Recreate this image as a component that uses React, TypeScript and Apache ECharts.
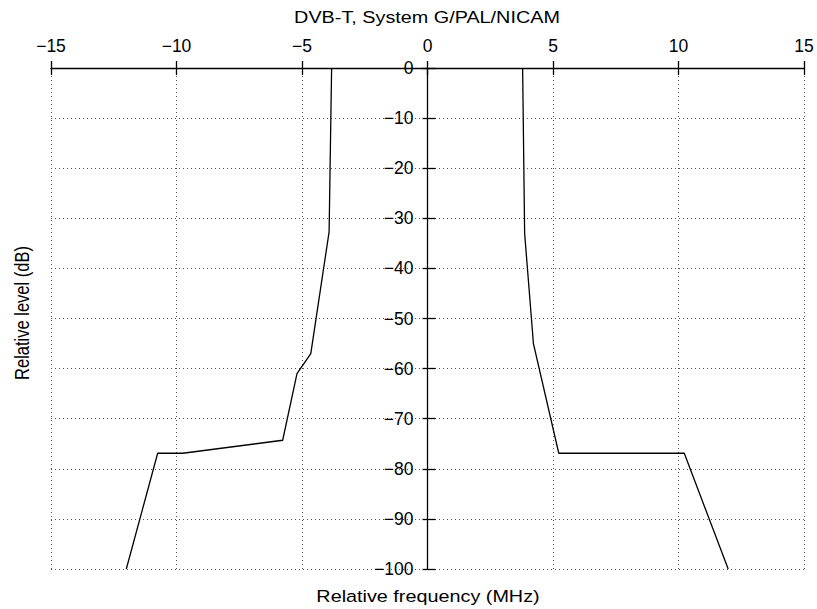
import React, { useEffect, useRef } from "react";
import * as echarts from "echarts";

const xTicks = [-15, -10, -5, 0, 5, 10, 15];
const yTicks = [0, -10, -20, -30, -40, -50, -60, -70, -80, -90, -100];
const leftMaskX = [-12.0, -10.75, -9.75, -5.77, -5.2, -4.65, -3.92, -3.82];
const leftMaskY = [-100, -76.9, -76.9, -74.3, -61, -57, -32.7, 0];
const rightMaskX = [3.79, 3.87, 4.22, 5.23, 10.23, 11.98];
const rightMaskY = [0, -33, -55, -76.9, -76.9, -100];

const FONT = "'Liberation Sans', Arial, Helvetica, sans-serif";
const fmt = (v: number) => (v < 0 ? "\u2212" + Math.abs(v) : String(v));

const GRID_LEFT = 51;
const GRID_RIGHT = 13;
const W = 817;

export default function App() {
  const ref = useRef<HTMLDivElement>(null);
  useEffect(() => {
    if (!ref.current) return;
    const chart = echarts.init(ref.current, undefined, { renderer: "svg" });
    const pair = (xs: number[], ys: number[]) => xs.map((x, i) => [x, ys[i]]);
    const splitLine = { show: true, lineStyle: { color: "#555", type: [1, 3] as any, width: 1 } };
    const labelStyle = { color: "#000", fontSize: 17.5, fontFamily: FONT };
    const yOffset = -(W - GRID_LEFT - GRID_RIGHT) / 2;
    chart.setOption({
      animation: false,
      backgroundColor: "#fff",
      grid: { left: GRID_LEFT, right: GRID_RIGHT, top: 68, bottom: 40, containLabel: false },
      xAxis: [
        {
          type: "value",
          position: "top",
          min: xTicks[0],
          max: xTicks[xTicks.length - 1],
          interval: 5,
          axisLine: { show: true, onZero: false, lineStyle: { color: "#000", width: 1.3 } },
          axisTick: { show: true, length: 7, lineStyle: { color: "#000", width: 1.3 } },
          axisLabel: { ...labelStyle, margin: 13, formatter: (v: number) => fmt(v) },
          splitLine,
        },
        {
          type: "value",
          position: "top",
          min: xTicks[0],
          max: xTicks[xTicks.length - 1],
          interval: 5,
          axisLine: { show: false, onZero: false },
          axisTick: { show: true, inside: true, length: 7, lineStyle: { color: "#000", width: 1.3 } },
          axisLabel: { show: false },
          splitLine: { show: false },
        },
      ],
      yAxis: [
        {
          type: "value",
          position: "left",
          offset: yOffset,
          min: yTicks[yTicks.length - 1],
          max: yTicks[0],
          interval: 10,
          axisLine: { show: true, onZero: false, lineStyle: { color: "#000", width: 1.3 } },
          axisTick: { show: true, length: 5, lineStyle: { color: "#000", width: 1.3 } },
          axisLabel: { ...labelStyle, margin: 14, formatter: (v: number) => fmt(v) },
          splitLine,
        },
        {
          type: "value",
          position: "left",
          offset: yOffset,
          min: yTicks[yTicks.length - 1],
          max: yTicks[0],
          interval: 10,
          axisLine: { show: false, onZero: false },
          axisTick: { show: true, inside: true, length: 8, lineStyle: { color: "#000", width: 1.3 } },
          axisLabel: { show: false },
          splitLine: { show: false },
        },
      ],
      graphic: [
        {
          type: "text",
          x: 427,
          y: 18,
          scaleX: 1.2,
          style: {
            text: "DVB-T, System G/PAL/NICAM",
            font: `16.5px ${FONT}`,
            fill: "#000",
            align: "center",
            verticalAlign: "middle",
          },
        },
        {
          type: "text",
          x: 428,
          y: 597,
          scaleX: 1.2,
          style: {
            text: "Relative frequency (MHz)",
            font: `16.5px ${FONT}`,
            fill: "#000",
            align: "center",
            verticalAlign: "middle",
          },
        },
        {
          type: "text",
          x: 22,
          y: 313,
          rotation: Math.PI / 2,
          scaleY: 1.2,
          style: {
            text: "Relative level (dB)",
            font: `16.5px ${FONT}`,
            fill: "#000",
            align: "center",
            verticalAlign: "middle",
          },
        },
      ],
      series: [
        {
          type: "line",
          data: pair(leftMaskX, leftMaskY),
          showSymbol: false,
          lineStyle: { color: "#000", width: 1.3 },
          xAxisIndex: 0,
          yAxisIndex: 0,
        },
        {
          type: "line",
          data: pair(rightMaskX, rightMaskY),
          showSymbol: false,
          lineStyle: { color: "#000", width: 1.3 },
          xAxisIndex: 0,
          yAxisIndex: 0,
        },
      ],
    });
    return () => chart.dispose();
  }, []);
  return <div ref={ref} style={{ width: 817, height: 609, position: "absolute", left: 0, top: 0 }} />;
}
